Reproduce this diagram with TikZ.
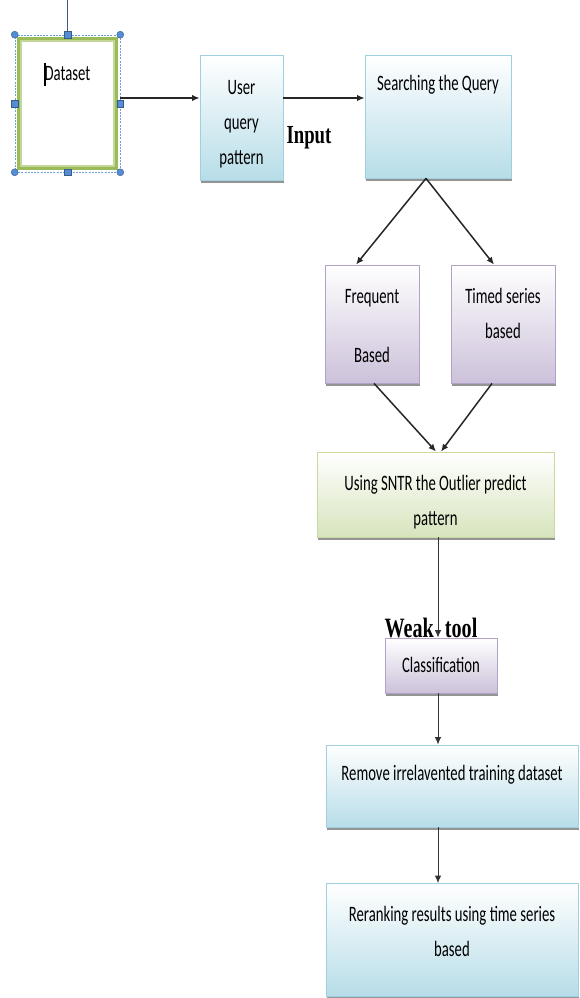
\documentclass[tikz,border=0pt]{standalone}
\usepackage{fontspec}
\setmainfont{Carlito}
\newfontfamily\boxfont{Carlito}[FakeStretch=0.67]
\newfontfamily\capfont{Liberation Serif}[FakeStretch=0.72]
\usetikzlibrary{positioning, arrows.meta, fit, calc, shadows}
\definecolor{bluebg}{RGB}{183,221,232}
\definecolor{blueln}{RGB}{160,208,224}
\definecolor{purbg}{RGB}{204,193,218}
\definecolor{purln}{RGB}{178,162,199}
\definecolor{grnbg}{RGB}{215,228,189}
\definecolor{grnln}{RGB}{200,218,160}
\definecolor{datgrn}{RGB}{155,187,89}
\definecolor{datin}{RGB}{196,215,155}
\definecolor{hdlbg}{RGB}{84,141,212}
\definecolor{hdlln}{RGB}{56,93,138}
\definecolor{selln}{RGB}{110,160,215}

\begin{document}
\begin{tikzpicture}[
    x=1pt, y=1pt,
    >={Latex[length=7.5pt,width=6.5pt]},
    % --- node styles ---
    box/.style    ={draw, line width=0.8pt, inner sep=0pt,
                    drop shadow={shadow xshift=0.5pt, shadow yshift=-2.5pt,
                    fill=black!60, opacity=0.7}},
    blubox/.style ={box, draw=blueln, top color=white, bottom color=bluebg},
    purbox/.style ={box, draw=purln, top color=white, bottom color=purbg},
    grnbox/.style ={box, draw=grnln, top color=white, bottom color=grnbg},
    datbox/.style ={draw=datgrn, line width=4pt, fill=white},
    selfrm/.style ={draw=selln, line width=0.6pt, dash pattern=on 2pt off 1.2pt,
                    inner sep=2pt},
    hdlsq/.style  ={draw=hdlln, fill=hdlbg, line width=0.4pt, inner sep=0pt,
                    minimum size=6.5pt},
    hdlci/.style  ={hdlsq, circle, minimum size=7pt},
    txt/.style    ={font=\fontsize{22}{35}\selectfont\boxfont, align=center,
                    anchor=north, inner sep=0pt, execute at begin node=\strut},
    bigtxt/.style ={font=\capfont\bfseries, inner sep=0pt, anchor=base},
    % --- wire styles ---
    flow/.style   ={->, line width=1.5pt, black!85},
    thinflow/.style={->, line width=1pt, black!80},
]
\useasboundingbox (0,0) rectangle (579,-998);

% =============== Dataset (selected) ===============
\node[datbox, minimum width=97pt, minimum height=129pt,
      label={[txt, yshift=-18.5pt]north:Dataset}] (data) at (67.5,-103.5) {};
\draw[datin, line width=1.5pt] ($(data.north west)+(4,-4)$) rectangle ($(data.south east)+(-4,4)$);
\draw[line width=1.2pt] (45,-63) -- (45,-86);
\node[selfrm, fit=(data)] (sel) {};
\coordinate (rottop) at (sel.north |- 0,0);
\draw[hdlln, line width=0.6pt] (sel.north) -- (rottop);
\foreach \a in {north, south, east, west}
  \node[hdlsq] at (sel.\a) {};
\foreach \a in {north west, north east, south west, south east}
  \node[hdlci] at (sel.\a) {};

% =============== Top row ===============
\node[blubox, minimum width=83pt, minimum height=125pt,
      label={[txt, yshift=-25.5pt]north:User\\query\\pattern}] (user) at (241.5,-117.5) {};
\node[blubox, minimum width=146pt, minimum height=123pt,
      label={[txt, yshift=-11.5pt]north:Searching the Query}] (search) at (438,-116.5) {};
\node[bigtxt, font=\fontsize{26}{28}\selectfont\capfont\bfseries] (inp) at (309,-143) {Input};

% =============== Branches ===============
\node[purbox, minimum width=94pt, minimum height=118pt,
      label={[txt, yshift=-24.5pt]north:Frequent\\[24pt]Based}] (freq) at (372,-324) {};
\node[purbox, minimum width=104pt, minimum height=118pt,
      label={[txt, yshift=-23.5pt]north:Timed series\\based}] (timed) at (503,-324) {};
\node[grnbox, minimum width=237pt, minimum height=85pt,
      label={[txt, yshift=-23.5pt]north:Using SNTR the Outlier predict\\pattern}] (sntr) at (435.5,-494.5) {};

% =============== Lower chain ===============
\node[purbox, minimum width=112pt, minimum height=55pt,
      label={[txt, yshift=-10.5pt]north:Classification}] (class) at (441,-665.5) {};
\node[blubox, minimum width=252pt, minimum height=82pt,
      label={[txt, yshift=-11.5pt]north:Remove irrelavented training dataset}] (remove) at (452,-786) {};
\node[blubox, minimum width=252pt, minimum height=113pt,
      label={[txt, yshift=-22.5pt]north:Reranking results using time series\\based}] (rerank) at (452,-940) {};
\coordinate (spine) at (438,0);

% =============== Wires ===============
\draw[flow] ([yshift=5.5pt]sel.east) -- ([yshift=5.5pt]sel.east -| user.west);
\draw[flow] ([yshift=19.5pt]user.east) -- ([yshift=19.5pt]user.east -| search.west);
\draw[flow] ([xshift=-12pt]search.south) -- ([xshift=-16pt]freq.north);
\draw[flow] ([xshift=-12pt]search.south) -- ([xshift=-9pt]timed.north);
\draw[flow] ([xshift=2pt]freq.south) -- ([xshift=0.5pt]sntr.north);
\draw[flow] ([xshift=-11pt]timed.south) -- ([xshift=5.5pt]sntr.north);
\draw[thinflow] (sntr.south -| spine) -- (class.north -| spine);
\draw[thinflow] (class.south -| spine) -- (remove.north -| spine);
\draw[thinflow] (remove.south -| spine) -- (rerank.north -| spine);

\node[bigtxt, font=\fontsize{28}{30}\selectfont\capfont\bfseries] (weak) at (431,-637) {Weak\hspace{11pt}tool};

\end{tikzpicture}
\end{document}
